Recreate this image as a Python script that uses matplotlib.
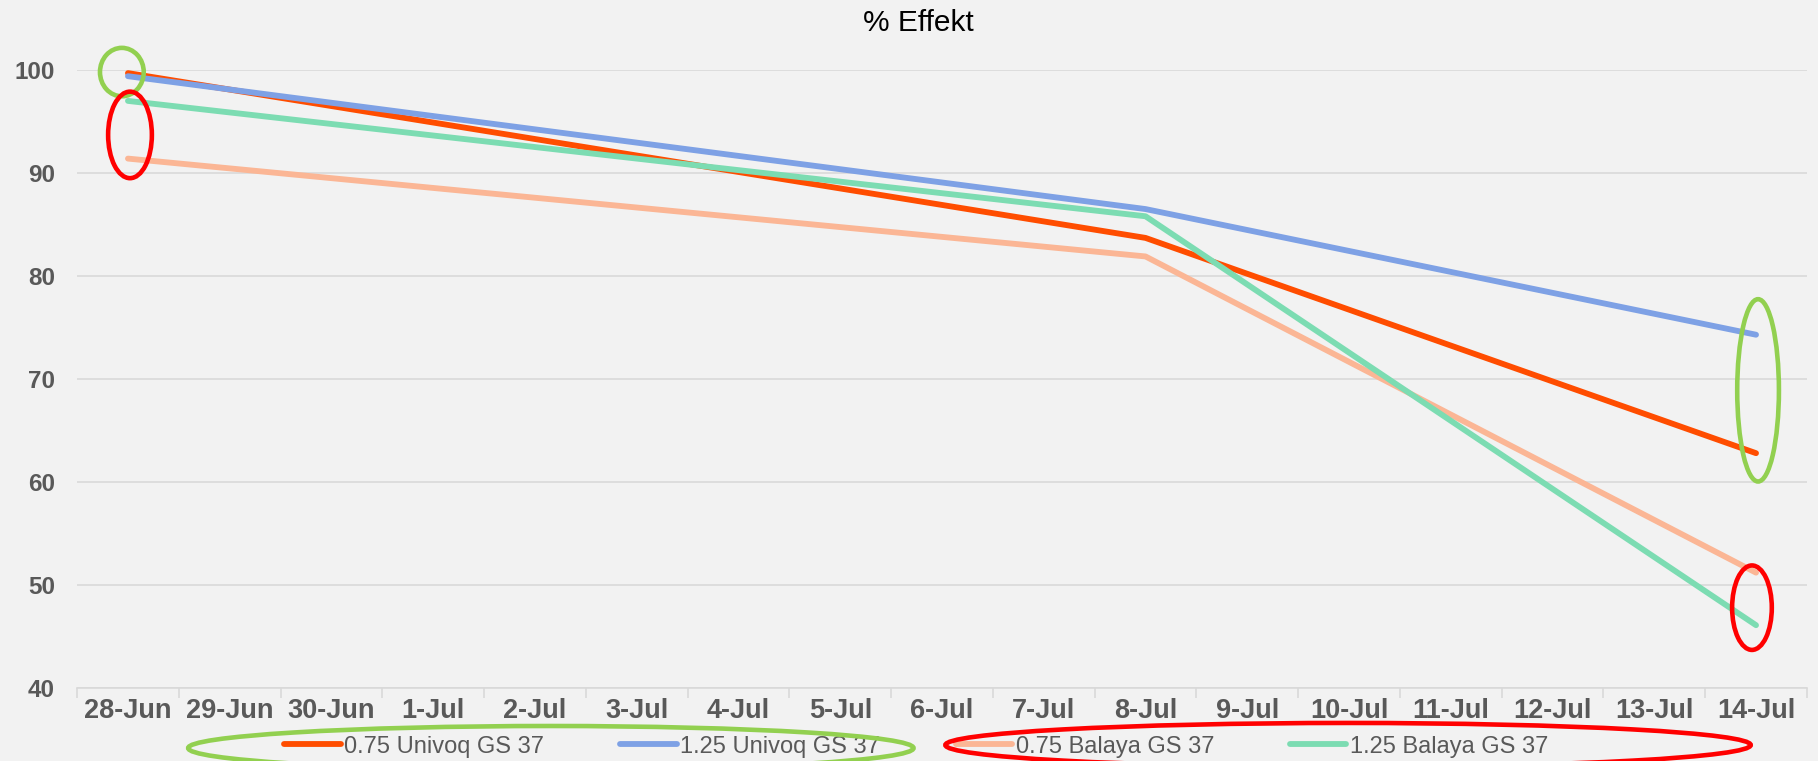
import matplotlib
matplotlib.use('Agg')
import matplotlib.pyplot as plt
from matplotlib.patches import Ellipse
import numpy as np

# categories on the x axis
dates = ['28-Jun', '29-Jun', '30-Jun', '1-Jul', '2-Jul', '3-Jul', '4-Jul', '5-Jul', '6-Jul',
         '7-Jul', '8-Jul', '9-Jul', '10-Jul', '11-Jul', '12-Jul', '13-Jul', '14-Jul']
# days with a measurement
measured = ['28-Jun', '8-Jul', '14-Jul']

univoq_075 = [99.7, 83.7, 62.8]
univoq_125 = [99.4, 86.5, 74.3]
balaya_075 = [91.4, 81.9, 51.2]
balaya_125 = [97.0, 85.8, 46.1]

series = [
    ('0.75 Univoq GS 37', univoq_075, '#FF4D00'),
    ('1.25 Univoq GS 37', univoq_125, '#7EA1E5'),
    ('0.75 Balaya GS 37', balaya_075, '#FBB695'),
    ('1.25 Balaya GS 37', balaya_125, '#7CDCB2'),
]

plt.rcParams['font.family'] = ['Liberation Sans', 'DejaVu Sans']
bg = '#F2F2F2'
grid = '#D9D9D9'
txt = '#595959'

fig = plt.figure(figsize=(18.18, 7.61), dpi=100, facecolor=bg)
ax = fig.add_axes([0.0424, 0.0959, 0.9515, 0.8121])
ax.set_facecolor(bg)

x = [dates.index(d) for d in measured]
for label, vals, col in series:
    ax.plot(x, vals, color=col, lw=4.2, label=label, solid_capstyle='round', zorder=3)

ax.set_xlim(-0.5, len(dates) - 0.5)
ax.set_ylim(40, 100)
ax.set_yticks(np.arange(40, 101, 10))
ax.yaxis.grid(True, color=grid, lw=1.2)
ax.set_axisbelow(True)

# ticks between categories, labels at categories
ax.set_xticks(np.arange(-0.5, len(dates), 1.0))
ax.set_xticklabels([])
ax.set_xticks(range(len(dates)), minor=True)
ax.set_xticklabels(dates, minor=True)
ax.tick_params(axis='x', which='major', length=7, color=grid, width=1.2)
ax.tick_params(axis='x', which='minor', length=0, pad=7, labelsize=19.5, labelcolor=txt)
for t in ax.get_xticklabels(minor=True):
    t.set_fontweight('bold')
ax.tick_params(axis='y', length=0, pad=16, labelsize=17.5, labelcolor=txt)
for t in ax.get_yticklabels():
    t.set_fontweight('bold')

for s in ['top', 'right', 'left']:
    ax.spines[s].set_visible(False)
ax.spines['bottom'].set_color(grid)
ax.spines['bottom'].set_linewidth(1.2)

fig.suptitle('% Effekt', x=0.505, y=0.988, fontsize=21.5, color='black')

fig.legend(loc='center', bbox_to_anchor=(0.504, 0.019), ncol=4, frameon=False,
           fontsize=17, labelcolor=txt, handlelength=2.4, handletextpad=0.15,
           columnspacing=3.2)

# hand drawn highlight marks
marks = [
    ((-0.06, 99.8), 0.43, 4.7, '#92D050'),
    ((0.02, 93.7), 0.43, 8.4, '#FF0000'),
    ((16.02, 68.9), 0.41, 17.7, '#92D050'),
    ((15.96, 47.8), 0.39, 8.2, '#FF0000'),
]
for c, w, h, col in marks:
    ax.add_patch(Ellipse(c, w, h, fill=False, ec=col, lw=3.3, clip_on=False, zorder=5))

fig.add_artist(Ellipse((0.303, 0.017), 0.399, 0.058, fill=False, ec='#92D050', lw=3.3,
                       transform=fig.transFigure, zorder=10))
fig.add_artist(Ellipse((0.7415, 0.021), 0.443, 0.058, fill=False, ec='#FF0000', lw=3.3,
                       transform=fig.transFigure, zorder=10))

fig.savefig('out.png', dpi=100, facecolor=bg)
